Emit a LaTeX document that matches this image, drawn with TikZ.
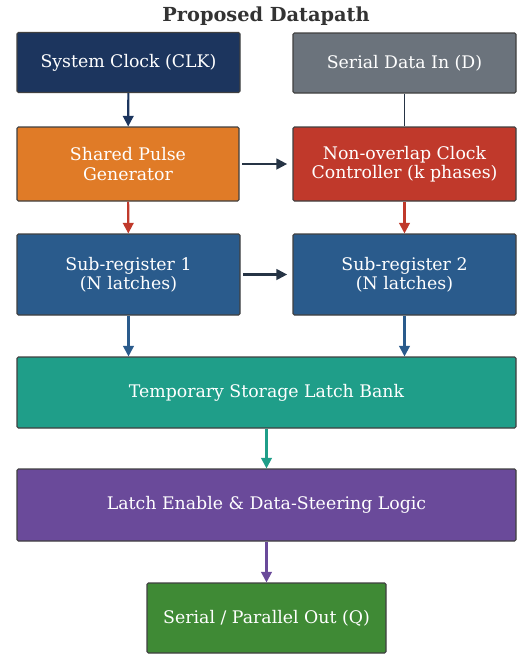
\documentclass[tikz,border=0pt]{standalone}
\usepackage{fontspec}
\setmainfont{DejaVu Serif}
\usetikzlibrary{arrows.meta}

\definecolor{clknavy}{HTML}{1C355E}
\definecolor{dingray}{HTML}{6B737C}
\definecolor{pulseorange}{HTML}{E07B27}
\definecolor{ctrlred}{HTML}{C0392B}
\definecolor{subblue}{HTML}{2A5B8C}
\definecolor{bankteal}{HTML}{1F9E89}
\definecolor{logicpurple}{HTML}{6A4A9A}
\definecolor{outgreen}{HTML}{3F8A35}
\definecolor{linkdark}{HTML}{263445}

\tikzset{
  blk/.style 2 args={draw=black!75, line width=0.8pt, rounded corners=1pt,
    minimum width=#1*0.75pt, minimum height=#2*0.75pt, inner sep=0pt,
    text=white, align=center, font=\fontsize{13}{14.5}\selectfont},
  flow/.style={-{Triangle[length=8pt,width=8pt]}, line width=1.6pt, draw=#1}
}

\begin{document}
\begin{tikzpicture}[x=0.75pt, y=-0.75pt]
        \useasboundingbox (0,0) rectangle (519,654);
        \node[font=\bfseries\fontsize{14.5}{16}\selectfont, text=black!80] (title) at (266,16) {Proposed Datapath};
        % top row
        \node[blk={223}{60}, fill=clknavy] (clk) at (128.5,62.5) {System Clock (CLK)};
        \node[blk={223}{60}, fill=dingray] (din) at (404.5,63) {Serial Data In (D)};
        % clock generation
        \node[blk={222}{74}, fill=pulseorange] (pulse) at (128,164) {Shared Pulse\\Generator};
        \node[blk={223}{74}, fill=ctrlred] (ctrl) at (404.5,164) {Non-overlap Clock\\Controller (k phases)};
        % sub-registers
        \node[blk={223}{81}, fill=subblue] (sub1) at (128.5,274.5) {Sub-register 1\\(N latches)};
        \node[blk={223}{81}, fill=subblue] (sub2) at (404.5,274.5) {Sub-register 2\\(N latches)};
        % wide stages
        \node[blk={499}{71}, fill=bankteal] (bank) at (266.5,392.5) {Temporary Storage Latch Bank};
        \node[blk={499}{72}, fill=logicpurple] (steer) at (266.5,505) {Latch Enable \& Data-Steering Logic};
        \node[blk={239}{70}, fill=outgreen] (out) at (266.5,618) {Serial / Parallel Out (Q)};

        \draw[flow=clknavy] (clk) -- (pulse);
        \draw[line width=1.2pt, draw=linkdark] (din) -- (ctrl);
        \draw[flow=linkdark] ([xshift=2pt]pulse.east) -- ([xshift=-4pt]ctrl.west);
        \draw[flow=ctrlred] (pulse) -- (sub1);
        \draw[flow=ctrlred] (ctrl) -- (sub2);
        \draw[flow=linkdark] ([xshift=2pt]sub1.east) -- ([xshift=-4pt]sub2.west);
        \draw[flow=subblue] (sub1) -- (sub1 |- bank.north);
        \draw[flow=subblue] (sub2) -- (sub2 |- bank.north);
        \draw[flow=bankteal] (bank) -- (steer);
        \draw[flow=logicpurple] (steer) -- (out);
    \end{tikzpicture}
\end{document}
